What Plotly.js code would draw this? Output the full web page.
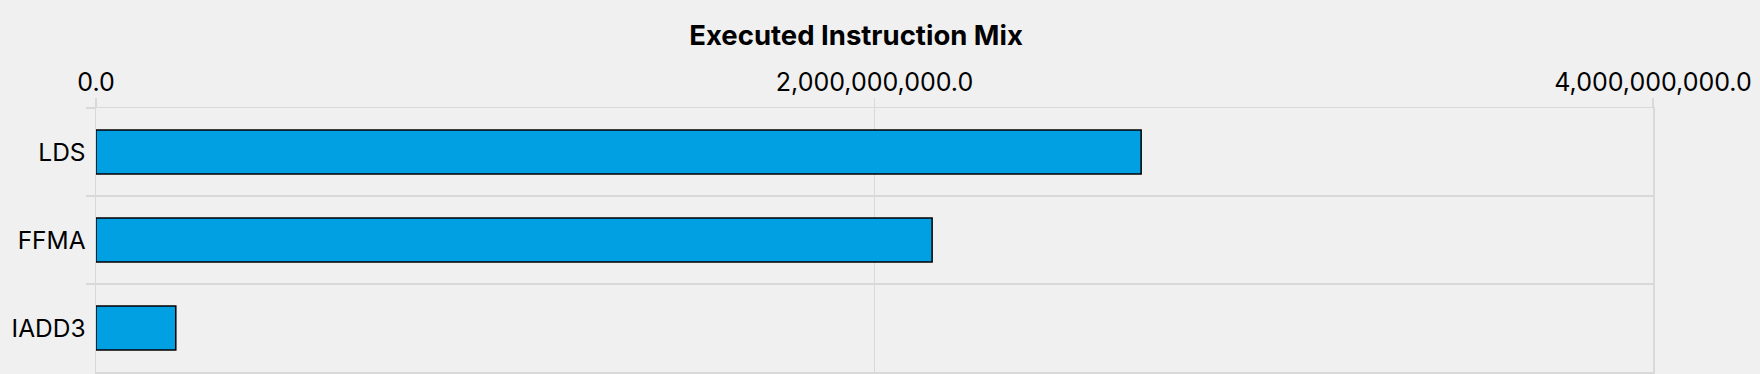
<!DOCTYPE html>
<html>
<head>
<meta charset="utf-8">
<script src="https://cdn.plot.ly/plotly-3.0.1.min.js"></script>
<style>
html,body{margin:0;padding:0;background:#f0f0f0;}
#chart{width:1760px;height:374px;}
</style>
</head>
<body>
<div id="chart"></div>
<script>
const categories = ["LDS", "FFMA", "IADD3"];
const values = [2685000000, 2148000000, 205000000];
const tickValues = [0, 2000000000, 4000000000];

const trace = {
  type: "bar",
  orientation: "h",
  y: categories,
  x: values,
  marker: {color: "#00a0e3", line: {color: "#000000", width: 1.5}},
  hoverinfo: "x+y"
};

const gridCol = "#d9d9d9";

const layout = {
  width: 1760,
  height: 374,
  paper_bgcolor: "#f0f0f0",
  plot_bgcolor: "#f0f0f0",
  margin: {l: 96, r: 107, t: 108, b: 2},
  bargap: 0.5,
  showlegend: false,
  font: {family: "Inter, 'Open Sans', sans-serif", size: 25, color: "#000"},
  title: {
    text: "<b>Executed Instruction Mix</b>",
    font: {family: "Inter, sans-serif", size: 27.5, color: "#000"},
    xref: "container", x: 0.4864, xanchor: "center",
    yref: "container", y: 0.906, yanchor: "middle"
  },
  xaxis: {
    side: "top",
    range: [0, 4000000000],
    tickvals: tickValues,
    tickformat: ",.1f",
    showgrid: true,
    gridcolor: gridCol,
    gridwidth: 1.5,
    ticks: "outside",
    ticklen: 9,
    tickcolor: gridCol,
    tickwidth: 1.5,
    ticklabelstandoff: -3,
    zeroline: false,
    showline: true,
    linecolor: gridCol,
    linewidth: 1.5,
    mirror: true,
    tickfont: {size: 25}
  },
  yaxis: {
    type: "category",
    autorange: false,
    range: [2.5, -0.5],
    tickson: "boundaries",
    showgrid: true,
    gridcolor: gridCol,
    gridwidth: 1.5,
    ticks: "outside",
    ticklen: 9,
    tickcolor: gridCol,
    tickwidth: 1.5,
    ticklabelstandoff: 4,
    zeroline: false,
    showline: true,
    linecolor: gridCol,
    linewidth: 1.5,
    mirror: true,
    tickfont: {size: 24.5}
  }
};

Plotly.newPlot("chart", [trace], layout, {displayModeBar: false, staticPlot: true});
</script>
</body>
</html>
